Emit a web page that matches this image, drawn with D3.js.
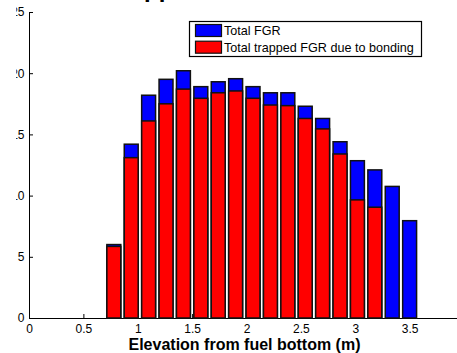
<!DOCTYPE html>
<html>
<head>
<meta charset="utf-8">
<script src="https://d3js.org/d3.v7.min.js"></script>
<style>
  body { margin: 0; background: #fff; }
  text { font-family: "Liberation Sans", Arial, Helvetica, sans-serif; }
</style>
</head>
<body>
<div id="chart"></div>
<script>
// bar positions along the fuel (m)
var elevation = [0.30, 0.46, 0.62, 0.78, 0.94, 1.10, 1.26, 1.42, 1.58, 1.74, 1.90,
                 2.06, 2.22, 2.38, 2.54, 2.70, 2.86, 3.02, 3.18, 3.34, 3.50];

// total FGR and the part trapped due to bonding
var totalFGR = [0, 0, 0, 6.0, 14.2, 18.2, 19.5, 20.2, 18.9, 19.3, 19.55,
                18.9, 18.4, 18.4, 17.3, 16.3, 14.4, 12.85, 12.1, 10.75, 7.95];
var trappedFGR = [0, 0, 0, 5.85, 13.1, 16.1, 17.5, 18.7, 17.95, 18.4, 18.55,
                  17.95, 17.4, 17.35, 16.3, 15.45, 13.4, 9.65, 9.05, 0, 0];

var xTicks = [0, 0.5, 1, 1.5, 2, 2.5, 3, 3.5];
var yTicks = [0, 5, 10, 15, 20, 25];
var seriesNames = ["Total FGR", "Total trapped FGR due to bonding"];
var seriesColors = ["#0000ff", "#ff0000"];

// svg area
var svgWidth = 457;
var svgHeight = 353;

var margin = { top: 12, right: -7, bottom: 35, left: 29 };
var width = svgWidth - margin.left - margin.right;
var height = svgHeight - margin.top - margin.bottom;

var svg = d3.select("#chart")
  .append("svg")
  .attr("width", svgWidth)
  .attr("height", svgHeight);

// left part of the figure is cut off in the original
svg.append("defs").append("clipPath")
  .attr("id", "leftcut")
  .append("rect")
  .attr("x", 16.2 - margin.left)
  .attr("y", -20)
  .attr("width", 60)
  .attr("height", height + 40);

var chartGroup = svg.append("g")
  .attr("transform", `translate(${margin.left}, ${margin.top})`);

var xScale = d3.scaleLinear()
  .domain([0, 4])
  .range([0, width]);

var yScale = d3.scaleLinear()
  .domain([0, 25])
  .range([height, 0]);

var barWidth = xScale(0.128) - xScale(0);

// axes (ticks point inward)
var leftAxis = d3.axisLeft(yScale)
  .tickValues(yTicks)
  .tickFormat(d3.format("~g"))
  .tickSizeInner(-4)
  .tickSizeOuter(0)
  .tickPadding(4.5);

var bottomAxis = d3.axisBottom(xScale)
  .tickValues(xTicks)
  .tickFormat(d3.format("~g"))
  .tickSizeInner(-4)
  .tickSizeOuter(0)
  .tickPadding(6.5);

var yAxisG = chartGroup.append("g")
  .attr("clip-path", "url(#leftcut)")
  .call(leftAxis);

var xAxisG = chartGroup.append("g")
  .attr("transform", `translate(0, ${height})`)
  .call(bottomAxis);

[yAxisG, xAxisG].forEach(function(g) {
  g.selectAll("text")
    .attr("font-size", 12)
    .attr("font-family", "Liberation Sans, Arial, sans-serif")
    .attr("fill", "#000");
  g.selectAll("line, path").attr("stroke", "#000");
});

// blue bars first, red bars over them
chartGroup.selectAll(".totalBar")
  .data(totalFGR)
  .enter()
  .append("rect")
  .attr("class", "totalBar")
  .attr("x", (d, i) => xScale(elevation[i]) - barWidth / 2)
  .attr("y", d => yScale(d))
  .attr("width", barWidth)
  .attr("height", d => height - yScale(d))
  .attr("fill", seriesColors[0])
  .attr("stroke", "#111")
  .attr("stroke-width", 1.5);

chartGroup.selectAll(".trapBar")
  .data(trappedFGR)
  .enter()
  .append("rect")
  .attr("class", "trapBar")
  .attr("x", (d, i) => xScale(elevation[i]) - barWidth / 2)
  .attr("y", d => yScale(d))
  .attr("width", barWidth)
  .attr("height", d => height - yScale(d))
  .attr("fill", seriesColors[1])
  .attr("stroke", "#111")
  .attr("stroke-width", 1.5)
  .attr("display", d => d > 0 ? null : "none");

// x axis label
chartGroup.append("text")
  .attr("x", width / 2 - 2)
  .attr("y", height + 32)
  .attr("text-anchor", "middle")
  .attr("font-size", 16)
  .attr("font-weight", "bold")
  .text("Elevation from fuel bottom (m)");

// title, mostly above the visible area
svg.append("text")
  .attr("x", 108)
  .attr("y", -3)
  .attr("font-size", 24)
  .attr("font-weight", "bold")
  .text("Trapped FGR");

// legend
var legend = svg.append("g")
  .attr("transform", "translate(189.5, 21.5)");

legend.append("rect")
  .attr("width", 232)
  .attr("height", 35)
  .attr("fill", "#fff")
  .attr("stroke", "#000")
  .attr("stroke-width", 1.2);

seriesNames.forEach(function(name, i) {
  legend.append("rect")
    .attr("x", 6)
    .attr("y", 3 + i * 16.7)
    .attr("width", 26)
    .attr("height", 12)
    .attr("fill", seriesColors[i])
    .attr("stroke", "#111")
    .attr("stroke-width", 1.2);
  legend.append("text")
    .attr("x", 34.5)
    .attr("y", 9 + i * 16.7)
    .attr("dy", "0.35em")
    .attr("font-size", 12.6)
    .text(name);
});
</script>
</body>
</html>
